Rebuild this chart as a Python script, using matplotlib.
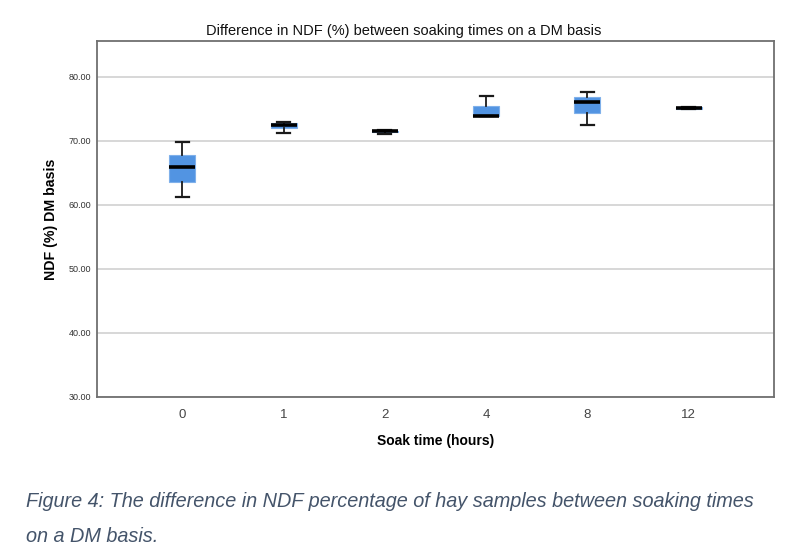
import numpy as np
import matplotlib
matplotlib.use('Agg')
import matplotlib.pyplot as plt

# soak times and box stats
soak_labels = ['0', '1', '2', '4', '8', '12']
whislo = [61.25, 71.25, 71.15, 73.9, 72.45, 75.0]
q1 = [63.6, 72.0, 71.4, 73.9, 74.4, 75.05]
med = [65.9, 72.55, 71.5, 73.9, 76.1, 75.2]
q3 = [67.8, 72.8, 71.6, 75.5, 76.9, 75.3]
whishi = [69.9, 72.95, 71.7, 77.1, 77.7, 75.35]
yticks = [30, 40, 50, 60, 70, 80]

plt.rcParams['font.family'] = ['Liberation Sans', 'DejaVu Sans']

stats = []
for i, lab in enumerate(soak_labels):
    stats.append(dict(label=lab, whislo=whislo[i], q1=q1[i], med=med[i],
                      q3=q3[i], whishi=whishi[i], fliers=[]))

fig = plt.figure(figsize=(8, 5.56), dpi=100)
ax = fig.add_axes([0.121, 0.2865, 0.846, 0.6395])

box_col = '#5294e2'
ax.bxp(stats, positions=np.arange(len(soak_labels)), widths=0.256,
       patch_artist=True, showfliers=False,
       boxprops=dict(facecolor=box_col, edgecolor='#7fb0ea', linewidth=0.8),
       medianprops=dict(color='black', linewidth=2.6),
       whiskerprops=dict(color='#1a1a1a', linewidth=1.3),
       capprops=dict(color='#1a1a1a', linewidth=1.6),
       capwidths=0.13)

ax.set_xlim(-0.846, 5.84)
ax.set_ylim(30, 85.6)
ax.set_yticks(yticks)
ax.set_yticklabels(['%.2f' % v for v in yticks], fontsize=6.5, color='#333333')
ax.set_xticks(np.arange(len(soak_labels)))
ax.set_xticklabels(soak_labels, fontsize=9.5, color='#444444',
                   family=['Liberation Sans Narrow', 'Liberation Sans'])
ax.tick_params(axis='both', length=0)
ax.tick_params(axis='y', pad=4)
ax.tick_params(axis='x', pad=9)
ax.grid(True, axis='y', color='#d4d4d4', linewidth=1.3)
ax.set_axisbelow(True)
for s in ax.spines.values():
    s.set_color('#707070')
    s.set_linewidth(1.3)

fig.text(0.504, 0.944, 'Difference in NDF (%) between soaking times on a DM basis',
         fontsize=10.5, color='#111111', ha='center', va='center')
ax.set_xlabel('Soak time (hours)', fontsize=10, fontweight='bold', labelpad=9)
ax.set_ylabel('NDF (%) DM basis', fontsize=10.2, fontweight='bold', labelpad=8)

fig.text(0.032, 0.088, 'Figure 4: The difference in NDF percentage of hay samples between soaking times',
         fontsize=14.3, style='italic', color='#44546a', va='baseline')
fig.text(0.032, 0.025, 'on a DM basis.',
         fontsize=14.3, style='italic', color='#44546a', va='baseline')

fig.savefig('out.png', dpi=100)
